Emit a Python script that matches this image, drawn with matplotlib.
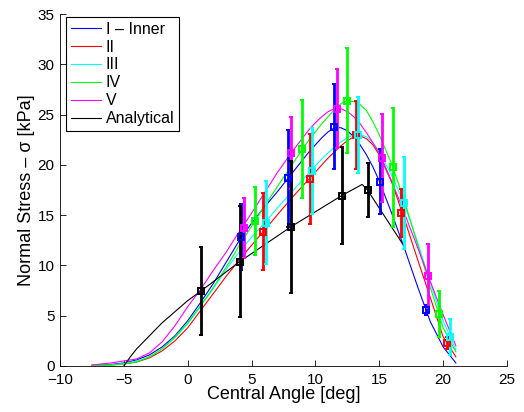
import matplotlib
matplotlib.use("Agg")
import matplotlib.pyplot as plt
import numpy as np

plt.rcParams["font.family"] = ["Liberation Sans", "DejaVu Sans"]

# smooth measured curves, sampled on a shared angle grid [deg]
angle = [-7.5, -6, -5, -4, -3, -2, -1, 0, 1, 2, 3, 4, 5, 6, 7, 8, 9, 9.5, 10, 10.5,
         11, 11.5, 12, 12.5, 13, 13.5, 14, 14.5, 15, 16, 17, 18, 19, 20, 21]

stress_I = [0.05, 0.15, 0.3, 0.6, 1.1, 1.9, 3.0, 4.5, 6.3, 8.2, 10.3, 12.4, 14.2, 15.8, 17.3,
            18.9, 20.5, 21.3, 22.0, 22.7, 23.3, 23.7, 23.7, 23.4, 22.8, 22.0, 21.0, 19.8,
            18.4, 15.1, 11.6, 7.9, 4.4, 1.9, 0.3]
stress_II = [0.05, 0.1, 0.2, 0.4, 0.8, 1.5, 2.5, 3.8, 5.5, 7.2, 8.9, 10.5, 12.0, 13.5, 15.0,
             16.5, 17.9, 18.6, 19.3, 20.0, 20.7, 21.3, 21.9, 22.4, 22.8, 22.9, 22.6, 22.0,
             21.0, 18.2, 14.5, 10.6, 6.8, 2.9, 0.9]
stress_III = [0.05, 0.1, 0.25, 0.5, 0.9, 1.7, 2.8, 4.2, 5.9, 7.7, 9.6, 11.3, 12.8, 14.2, 15.7,
              17.1, 18.5, 19.2, 19.9, 20.6, 21.2, 21.8, 22.3, 22.7, 23.0, 23.0, 22.8, 22.2,
              21.3, 18.9, 16.0, 12.3, 8.3, 4.5, 1.6]
stress_IV = [0.05, 0.1, 0.2, 0.4, 0.9, 1.7, 2.9, 4.3, 6.0, 7.8, 9.8, 11.9, 13.9, 15.9, 17.8,
             19.7, 21.6, 22.5, 23.3, 24.1, 24.8, 25.5, 26.1, 26.4, 26.3, 26.0, 25.4, 24.3,
             23.0, 20.0, 16.3, 12.1, 7.8, 3.8, 1.4]
stress_V = [0.1, 0.3, 0.5, 0.7, 1.3, 2.4, 4.0, 5.9, 7.6, 9.5, 11.3, 13.3, 15.2, 17.2, 19.2,
            21.0, 22.7, 23.5, 24.2, 24.8, 25.3, 25.6, 25.6, 25.3, 24.8, 24.1, 23.2, 22.2,
            21.2, 18.3, 15.1, 11.8, 8.4, 5.1, 2.0]

analytical_x = [-5, -4.5, -4, -3, -2, -1, 0, 1.03, 4.06, 8.09, 12.06, 13.66, 14.08, 16.9]
analytical_y = [0.0, 0.9, 1.7, 3.0, 4.3, 5.4, 6.5, 7.45, 10.37, 13.85, 16.95, 18.06, 17.5, 12.0]

# mean +/- error at the measurement stations
pts_I_x = [4.17, 7.88, 11.46, 15.02, 18.63]
pts_I_y = [12.83, 18.66, 23.8, 18.35, 5.57]
pts_I_err = [3.3, 4.85, 4.25, 3.2, 0.5]

pts_II_x = [5.87, 9.58, 13.16, 16.72, 20.27]
pts_II_y = [13.35, 18.6, 22.96, 15.2, 2.25]
pts_II_err = [3.85, 4.5, 3.4, 2.4, 0.6]

pts_III_x = [6.13, 9.76, 13.35, 16.93, 20.53]
pts_III_y = [14.25, 19.4, 23.0, 16.2, 2.85]
pts_III_err = [4.15, 4.3, 3.8, 4.6, 1.8]

pts_IV_x = [5.24, 8.93, 12.5, 16.1, 19.67]
pts_IV_y = [14.4, 21.6, 26.4, 19.75, 5.17]
pts_IV_err = [3.4, 4.9, 5.2, 5.95, 2.3]

pts_V_x = [4.38, 8.09, 11.7, 15.23, 18.81]
pts_V_y = [13.75, 21.2, 25.6, 20.7, 8.95]
pts_V_err = [3.0, 3.6, 3.9, 4.4, 3.2]

pts_an_x = [1.03, 4.06, 8.09, 12.06, 14.08]
pts_an_y = [7.45, 10.37, 13.85, 16.95, 17.5]
pts_an_err = [4.4, 5.5, 6.55, 4.8, 2.7]

labels = ["I \u2013 Inner", "II", "III", "IV", "V", "Analytical"]
colors = ["#0000ff", "#ff0000", "#00ffff", "#00ff00", "#ff00ff", "#000000"]

fig = plt.figure(figsize=(5.24, 4.12), dpi=100)
ax = fig.add_axes([0.1145, 0.1117, 0.853, 0.854])

curves = [stress_I, stress_II, stress_III, stress_IV, stress_V]
for ys, c, lab in zip(curves, colors, labels):
    ax.plot(angle, ys, color=c, lw=0.8, label=lab)
ax.plot(analytical_x, analytical_y, color="black", lw=0.8, label=labels[-1])

points = [
    (pts_I_x, pts_I_y, pts_I_err),
    (pts_II_x, pts_II_y, pts_II_err),
    (pts_III_x, pts_III_y, pts_III_err),
    (pts_IV_x, pts_IV_y, pts_IV_err),
    (pts_V_x, pts_V_y, pts_V_err),
    (pts_an_x, pts_an_y, pts_an_err),
]
for (px, py, pe), c in zip(points, colors):
    ax.errorbar(px, py, yerr=pe, fmt="s", color=c, mfc="none", mec=c, ms=4.5, mew=1.4,
                elinewidth=2.0, capsize=1.6, capthick=1.4)

ax.set_xlim(-10, 25)
ax.set_ylim(0, 35)
ax.set_xticks(np.arange(-10, 26, 5))
ax.set_yticks(np.arange(0, 36, 5))
ax.spines["top"].set_visible(False)
ax.spines["right"].set_visible(False)
ax.tick_params(direction="in", length=4, labelsize=11, width=0.6)
ax.tick_params(axis="x", pad=5)
ax.tick_params(axis="y", pad=4)
for s in ["left", "bottom"]:
    ax.spines[s].set_linewidth(0.6)

ax.set_xlabel("Central Angle [deg]", fontsize=13, labelpad=-1)
ax.set_ylabel("Normal Stress \u2013 \u03c3 [kPa]", fontsize=13, labelpad=2)

leg = ax.legend(loc="upper left", bbox_to_anchor=(0.013, 0.992), borderaxespad=0,
                fontsize=11.5, handlelength=1.9, handletextpad=0.3, labelspacing=0.18,
                borderpad=0.3, fancybox=False, framealpha=1)
leg.get_frame().set_edgecolor("black")
leg.get_frame().set_linewidth(0.8)

fig.savefig("out.png", dpi=100)
